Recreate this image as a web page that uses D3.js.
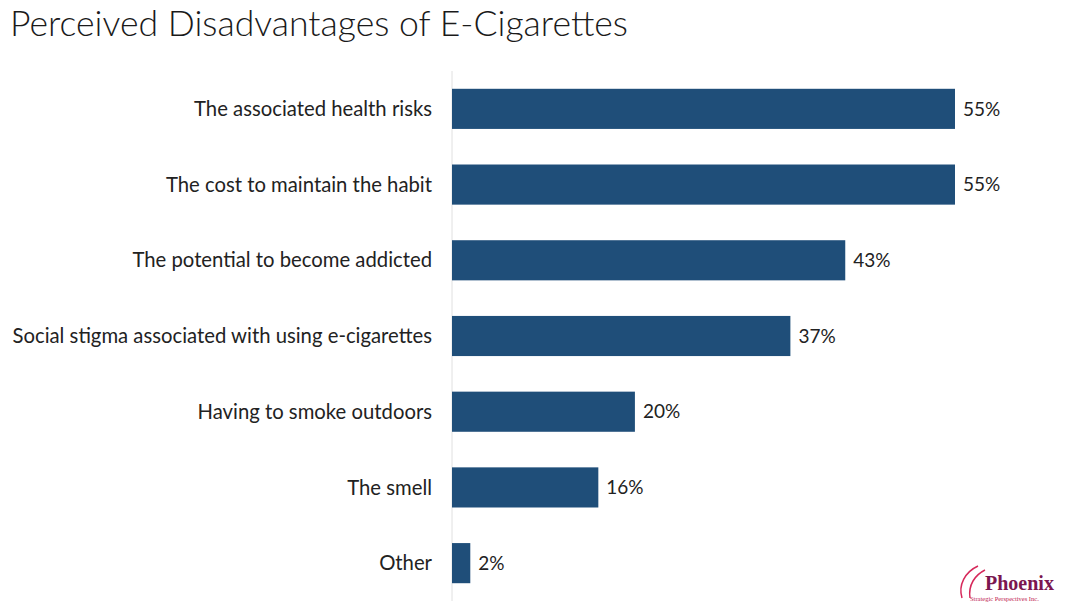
<!DOCTYPE html>
<html><head><meta charset="utf-8">
<script src="https://cdn.jsdelivr.net/npm/d3@7"></script>
<style>body{margin:0;background:#fff}</style>
</head><body>
<script>
const categories = ["The associated health risks","The cost to maintain the habit","The potential to become addicted","Social stigma associated with using e-cigarettes","Having to smoke outdoors","The smell","Other"];
const values = [55,55,43,37,20,16,2];
const title = "Perceived Disadvantages of E-Cigarettes";

const W=1071,H=604;
const svg=d3.select("body").append("svg").attr("width",W).attr("height",H);
svg.append("text").attr("x",10).attr("y",36).attr("font-family","Lato").attr("font-weight",300)
  .attr("font-size",35.6).attr("fill","#1a1a1a").text(title);

const x=d3.scaleLinear().domain([0,55]).range([452,955]);
const y=d3.scaleBand().domain(categories).range([71,601]).paddingInner(0.47).paddingOuter(0.235);

svg.append("line").attr("x1",452).attr("x2",452).attr("y1",71).attr("y2",601).attr("stroke","#e0e0e0").attr("stroke-width",1);

svg.selectAll("rect.bar").data(values).join("rect").attr("class","bar")
  .attr("x",x(0)).attr("y",(d,i)=>y(categories[i])).attr("width",d=>x(d)-x(0)).attr("height",y.bandwidth())
  .attr("fill","#1F4E79");

svg.selectAll("text.val").data(values).join("text").attr("class","val")
  .attr("x",d=>x(d)+8).attr("y",(d,i)=>y(categories[i])+y.bandwidth()/2).attr("dy","0.35em")
  .attr("font-family","Lato").attr("font-size",19).attr("fill","#222").text(d=>d+"%");

svg.selectAll("text.cat").data(categories).join("text").attr("class","cat")
  .attr("x",432).attr("y",d=>y(d)+y.bandwidth()/2).attr("dy","0.35em").attr("text-anchor","end")
  .attr("font-family","Lato").attr("font-size",20.3).attr("fill","#222").text(d=>d);

// logo
const g=svg.append("g");
g.append("path").attr("d","M962,598 C958,585 965,572 978,566 M970,598 C968,585 975,575 985,570").attr("fill","none").attr("stroke","#d6285a").attr("stroke-width",1.5);
g.append("text").attr("x",985).attr("y",590).attr("font-family","Liberation Serif").attr("font-weight","bold").attr("font-size",20).attr("fill","#7b1650").text("Phoenix");
g.append("text").attr("x",970).attr("y",601).attr("font-family","Liberation Serif").attr("font-size",6.5).attr("fill","#c02050").text("Strategic Perspectives Inc.");
</script>
</body></html>
